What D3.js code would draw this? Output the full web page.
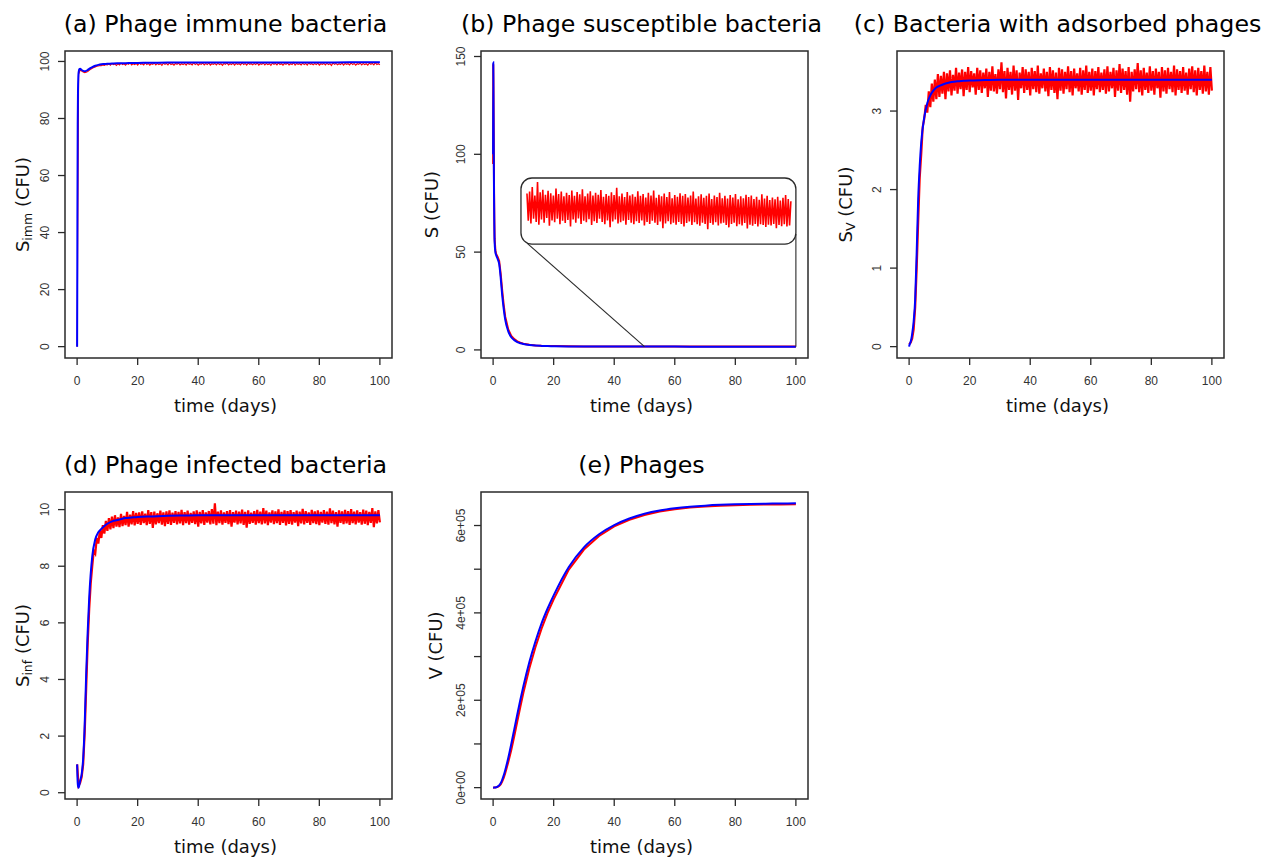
<!DOCTYPE html>
<html>
<head>
<meta charset="utf-8">
<script src="https://cdnjs.cloudflare.com/ajax/libs/d3/7.8.5/d3.min.js"></script>
<style>
body { margin: 0; background: #fff; }
.title { font-family: "DejaVu Sans"; font-size: 23.7px; fill: #000; }
.label { font-family: "DejaVu Sans"; font-size: 18px; fill: #111; }
.tick-label { font-family: "Liberation Sans"; font-size: 12px; fill: #333; }
</style>
</head>
<body>
<script>
// time grids (days)
const timeFine = [0, 0.05, 0.1, 0.2, 0.3, 0.4, 0.5, 0.75, 1, 1.5, 2, 2.5, 3, 3.5, 4, 5, 6, 7, 8, 9, 10,
    12, 14, 16, 18, 20, 25, 30, 35, 40, 45, 50, 55, 60, 65, 70, 75, 80, 85, 90, 95, 100]
const timeHalf = d3.range(0, 100.5, 0.5)
const timeInset = d3.range(50, 100.125, 0.25)

// deterministic solutions (blue), on timeFine
const detImm = [0, 20, 45, 78, 90, 94.5, 96.2, 97.3, 97.4, 97.0, 96.7, 96.6, 96.7, 97.0, 97.4, 98.0, 98.5, 98.8, 99.0, 99.1, 99.2,
    99.3, 99.35, 99.4, 99.45, 99.5, 99.55, 99.6, 99.6, 99.62, 99.63, 99.64, 99.65, 99.65, 99.66, 99.66, 99.67, 99.67, 99.67, 99.68, 99.68, 99.68]
const detSus = [100, 147, 135, 105, 80, 64, 55, 50, 48.5, 46.5, 44, 37, 28, 21, 15.5, 9.5, 6.5, 5, 4, 3.4, 3,
    2.5, 2.2, 2.05, 1.95, 1.9, 1.8, 1.75, 1.72, 1.7, 1.7, 1.69, 1.69, 1.69, 1.68, 1.68, 1.68, 1.68, 1.68, 1.68, 1.68, 1.68]
const detAds = [0, 0.01, 0.02, 0.03, 0.04, 0.05, 0.06, 0.1, 0.16, 0.32, 0.6, 1.2, 1.88, 2.3, 2.6, 2.92, 3.1, 3.2, 3.26, 3.3, 3.32,
    3.35, 3.37, 3.38, 3.385, 3.39, 3.395, 3.4, 3.4, 3.4, 3.4, 3.4, 3.4, 3.4, 3.4, 3.4, 3.4, 3.4, 3.4, 3.4, 3.4, 3.4]
const detInf = [1.0, 0.85, 0.6, 0.35, 0.24, 0.2, 0.18, 0.28, 0.42, 0.65, 1.2, 2.4, 4.2, 5.7, 6.9, 8.35, 8.95, 9.2, 9.32, 9.42, 9.5,
    9.6, 9.65, 9.7, 9.72, 9.74, 9.76, 9.78, 9.79, 9.8, 9.8, 9.8, 9.8, 9.8, 9.8, 9.8, 9.8, 9.8, 9.8, 9.8, 9.8, 9.8]
const detPhage = [0, 0, 0, 50, 100, 150, 250, 500, 900, 2500, 5000, 10000, 18000, 28000, 40000, 68000, 100000, 134000, 168000, 201000, 232000,
    288000, 335000, 376000, 410000, 440000, 505000, 550000, 580000, 601000, 616000, 627000, 634500, 639500, 643000, 645500, 647300, 648500, 649400, 650000, 650400, 650700]

// stochastic simulations (red)
const stochSus = [95, 146, 138, 112, 84, 67, 57, 51, 49, 47.5, 45.5, 39, 30.5, 23, 17, 10.5, 7.2, 5.5, 4.4, 3.7, 3.2,
    2.6, 2.3, 2.1, 2.0, 1.95, 1.85, 1.8, 1.78, 1.76, 1.75, 1.74, 1.73, 1.73, 1.72, 1.72, 1.72, 1.71, 1.71, 1.71, 1.71, 1.71]
const stochPhage = [0, 0, 0, 40, 80, 120, 200, 400, 700, 1800, 3800, 7500, 14000, 22000, 33000, 58000, 86000, 118000, 152000, 185000, 217000,
    274000, 322000, 364000, 400000, 431000, 499000, 545000, 576000, 598000, 613000, 624000, 632000, 637000, 641000, 643500, 645300, 646500, 647400, 648000, 648300, 648500]

// on timeHalf
const stochImm = [
    0.0, 95.5, 97.0, 96.6, 96.3, 96.1, 96.2, 96.5, 96.9, 97.3,
    97.6, 97.9, 98.1, 98.3, 98.4, 98.6, 98.5, 98.8, 98.6, 98.9,
    98.8, 99.2, 98.7, 99.3, 98.9, 99.1, 98.6, 99.2, 98.8, 99.4,
    98.9, 99.2, 98.7, 99.3, 99.0, 99.5, 98.8, 99.2, 98.9, 99.3,
    98.7, 99.4, 99.0, 99.2, 98.8, 99.6, 98.9, 99.3, 98.7, 99.2,
    99.0, 99.4, 98.8, 99.3, 98.9, 99.2, 98.6, 99.4, 99.0, 99.3,
    98.8, 99.5, 98.9, 99.2, 98.7, 99.3, 99.0, 99.4, 98.8, 99.2,
    98.9, 99.3, 98.7, 99.4, 99.0, 99.2, 98.8, 99.6, 98.9, 99.3,
    98.7, 99.2, 99.0, 99.4, 98.8, 99.3, 98.9, 99.5, 98.7, 99.2,
    99.0, 99.3, 98.8, 99.4, 98.9, 99.2, 98.6, 99.3, 99.0, 99.5,
    98.8, 99.2, 98.9, 99.4, 98.7, 99.3, 99.0, 99.2, 98.8, 99.6,
    98.9, 99.3, 98.7, 99.4, 99.0, 99.2, 98.8, 99.3, 98.9, 99.5,
    98.7, 99.2, 99.0, 99.4, 98.8, 99.3, 98.9, 99.2, 98.6, 99.4,
    99.0, 99.3, 98.8, 99.5, 98.9, 99.2, 98.7, 99.3, 99.0, 99.4,
    98.8, 99.2, 98.9, 99.6, 98.7, 99.3, 99.0, 99.2, 98.8, 99.4,
    98.9, 99.3, 98.7, 99.5, 99.0, 99.2, 98.8, 99.3, 98.9, 99.4,
    98.7, 99.2, 99.0, 99.3, 98.8, 99.4, 98.9, 99.2, 98.6, 99.5,
    99.0, 99.3, 98.8, 99.2, 98.9, 99.4, 98.7, 99.3, 99.0, 99.2,
    98.8, 99.5, 98.9, 99.3, 98.7, 99.2, 99.0, 99.4, 98.8, 99.3,
    98.9, 99.2, 98.7, 99.4, 99.0, 99.3, 98.8, 99.6, 98.9, 99.2,
    98.8]
const stochAds = [
    0.03, 0.05, 0.10, 0.22, 0.50, 1.00, 1.60, 2.15, 2.45, 2.80,
    2.90, 3.08, 2.98, 3.25, 3.05, 3.35, 3.12, 3.40, 3.15, 3.47,
    3.18, 3.45, 3.22, 3.50, 3.15, 3.48, 3.25, 3.52, 3.20, 3.46,
    3.26, 3.55, 3.22, 3.49, 3.28, 3.53, 3.19, 3.50, 3.27, 3.56,
    3.24, 3.51, 3.30, 3.48, 3.21, 3.55, 3.27, 3.52, 3.23, 3.49,
    3.29, 3.54, 3.18, 3.50, 3.26, 3.57, 3.25, 3.47, 3.22, 3.53,
    3.28, 3.62, 3.24, 3.51, 3.16, 3.55, 3.27, 3.50, 3.21, 3.58,
    3.26, 3.52, 3.14, 3.49, 3.29, 3.56, 3.23, 3.53, 3.27, 3.50,
    3.20, 3.55, 3.28, 3.51, 3.24, 3.58, 3.22, 3.48, 3.29, 3.54,
    3.25, 3.50, 3.19, 3.56, 3.27, 3.52, 3.23, 3.49, 3.15, 3.55,
    3.26, 3.53, 3.22, 3.50, 3.28, 3.57, 3.24, 3.51, 3.20, 3.54,
    3.29, 3.48, 3.25, 3.55, 3.21, 3.52, 3.27, 3.58, 3.23, 3.50,
    3.26, 3.54, 3.20, 3.51, 3.28, 3.56, 3.24, 3.49, 3.27, 3.53,
    3.22, 3.57, 3.25, 3.50, 3.29, 3.55, 3.18, 3.52, 3.26, 3.60,
    3.23, 3.54, 3.27, 3.51, 3.21, 3.56, 3.12, 3.50, 3.25, 3.53,
    3.28, 3.61, 3.24, 3.52, 3.20, 3.55, 3.27, 3.49, 3.23, 3.57,
    3.26, 3.51, 3.21, 3.54, 3.29, 3.50, 3.17, 3.56, 3.25, 3.52,
    3.22, 3.55, 3.28, 3.50, 3.24, 3.58, 3.20, 3.53, 3.27, 3.51,
    3.23, 3.56, 3.26, 3.49, 3.21, 3.54, 3.28, 3.57, 3.24, 3.52,
    3.20, 3.55, 3.27, 3.51, 3.22, 3.58, 3.25, 3.50, 3.21, 3.56,
    3.26]
const stochInf = [
    1.00, 0.25, 0.35, 0.55, 1.00, 2.10, 3.70, 5.30, 6.50, 7.40,
    8.00, 8.55, 8.45, 9.00, 8.80, 9.25, 9.00, 9.45, 9.15, 9.60,
    9.25, 9.70, 9.30, 9.75, 9.35, 9.80, 9.40, 9.72, 9.38, 9.85,
    9.42, 9.78, 9.45, 9.92, 9.40, 9.82, 9.48, 9.95, 9.44, 9.88,
    9.50, 9.90, 9.46, 9.94, 9.52, 9.86, 9.45, 9.98, 9.50, 9.91,
    9.35, 9.93, 9.48, 9.87, 9.52, 9.96, 9.47, 9.90, 9.42, 9.94,
    9.50, 9.97, 9.46, 9.89, 9.53, 9.95, 9.48, 9.92, 9.51, 9.99,
    9.45, 9.91, 9.52, 9.96, 9.47, 9.88, 9.53, 9.94, 9.49, 9.97,
    9.40, 9.92, 9.51, 9.98, 9.46, 9.90, 9.54, 9.95, 9.48, 10.02,
    9.50, 10.22, 9.45, 9.93, 9.52, 9.97, 9.47, 9.90, 9.53, 9.95,
    9.49, 9.98, 9.40, 9.91, 9.54, 9.96, 9.48, 9.93, 9.51, 10.00,
    9.46, 9.92, 9.36, 9.97, 9.50, 9.89, 9.53, 9.95, 9.47, 9.99,
    9.52, 9.93, 9.48, 10.05, 9.51, 9.96, 9.45, 9.90, 9.54, 9.97,
    9.49, 9.94, 9.52, 10.01, 9.46, 9.92, 9.53, 9.97, 9.44, 9.95,
    9.50, 9.98, 9.47, 9.91, 9.54, 9.96, 9.42, 9.93, 9.51, 10.03,
    9.48, 9.95, 9.53, 9.90, 9.46, 9.99, 9.52, 9.94, 9.49, 9.97,
    9.45, 9.92, 9.54, 9.98, 9.50, 9.93, 9.47, 10.04, 9.52, 9.96,
    9.48, 9.91, 9.40, 9.97, 9.53, 9.94, 9.49, 9.99, 9.51, 9.95,
    9.46, 10.02, 9.52, 9.93, 9.48, 9.97, 9.54, 9.91, 9.47, 10.00,
    9.50, 9.96, 9.45, 9.92, 9.53, 10.05, 9.38, 9.94, 9.51, 9.98,
    9.55]

// zoomed stochastic S for t = 50..100 (inset), on timeInset
const insetSus = [
    2.25, 1.55, 2.30, 1.48, 2.42, 1.60, 2.20, 1.52, 2.55, 1.45,
    2.28, 1.58, 2.35, 1.50, 2.22, 1.62, 2.32, 1.42, 2.26, 1.56,
    2.20, 1.51, 2.38, 1.60, 2.24, 1.46, 2.30, 1.55, 2.18, 1.49,
    2.27, 1.57, 2.21, 1.40, 2.33, 1.58, 2.19, 1.50, 2.29, 1.61,
    2.23, 1.47, 2.36, 1.55, 2.18, 1.51, 2.25, 1.59, 2.31, 1.44,
    2.20, 1.54, 2.27, 1.49, 2.22, 1.60, 2.34, 1.52, 2.17, 1.46,
    2.24, 1.56, 2.19, 1.38, 2.28, 1.53, 2.21, 1.58, 2.40, 1.48,
    2.18, 1.51, 2.25, 1.55, 2.16, 1.45, 2.29, 1.57, 2.20, 1.50,
    2.23, 1.46, 2.17, 1.54, 2.31, 1.49, 2.19, 1.56, 2.24, 1.43,
    2.15, 1.52, 2.27, 1.47, 2.20, 1.55, 2.33, 1.50, 2.14, 1.44,
    2.22, 1.53, 2.18, 1.36, 2.25, 1.48, 2.16, 1.54, 2.29, 1.46,
    2.13, 1.50, 2.21, 1.45, 2.17, 1.52, 2.26, 1.47, 2.19, 1.40,
    2.24, 1.49, 2.15, 1.53, 2.20, 1.44, 2.30, 1.51, 2.12, 1.46,
    2.18, 1.42, 2.23, 1.50, 2.14, 1.47, 2.19, 1.33, 2.25, 1.49,
    2.11, 1.45, 2.20, 1.51, 2.16, 1.43, 2.27, 1.48, 2.13, 1.50,
    2.19, 1.44, 2.12, 1.38, 2.21, 1.47, 2.15, 1.50, 2.24, 1.41,
    2.10, 1.46, 2.18, 1.43, 2.13, 1.49, 2.22, 1.35, 2.16, 1.45,
    2.20, 1.42, 2.11, 1.47, 2.17, 1.40, 2.09, 1.46, 2.23, 1.44,
    2.12, 1.39, 2.19, 1.45, 2.08, 1.43, 2.15, 1.47, 2.10, 1.36,
    2.17, 1.44, 2.07, 1.41, 2.14, 1.46, 2.21, 1.40, 2.11, 1.43,
    2.05]
const insetDomain = [1.0, 2.6]

// ticks
const xTicks = [0, 20, 40, 60, 80, 100]
const ticksImm = [0, 20, 40, 60, 80, 100]
const ticksSus = [0, 50, 100, 150]
const ticksAds = [0, 1, 2, 3]
const ticksInf = [0, 2, 4, 6, 8, 10]
const ticksPhage = [0, 1e5, 2e5, 3e5, 4e5, 5e5, 6e5]
const tickLabelsPhage = ['0e+00', '', '2e+05', '', '4e+05', '', '6e+05']

const panels = [
    { title: '(a) Phage immune bacteria', ylab: ['S', 'imm'], box: [65, 51], labOff: 36,
      det: detImm, stochT: timeHalf, stoch: stochImm, yTicks: ticksImm, noise: 1.1 },
    { title: '(b) Phage susceptible bacteria', ylab: ['S', null], box: [481, 51], labOff: 43,
      det: detSus, stochT: timeFine, stoch: stochSus, yTicks: ticksSus, noise: 2, inset: true },
    { title: '(c) Bacteria with adsorbed phages', ylab: ['S', 'V'], box: [897, 51], labOff: 45,
      det: detAds, stochT: timeHalf, stoch: stochAds, yTicks: ticksAds, noise: 2.2 },
    { title: '(d) Phage infected bacteria', ylab: ['S', 'inf'], box: [65, 492], labOff: 36,
      det: detInf, stochT: timeHalf, stoch: stochInf, yTicks: ticksInf, noise: 2.2 },
    { title: '(e) Phages', ylab: ['V', null], box: [481, 492], labOff: 39,
      det: detPhage, stochT: timeFine, stoch: stochPhage, yTicks: ticksPhage, yLabels: tickLabelsPhage, noise: 2 },
]

const boxW = 327, boxH = 307
const ink = '#2a2a2a'

const svg = d3.select('body').append('svg')
    .attr('width', 1265)
    .attr('height', 863)

panels.forEach(p => {
    const [bx, by] = p.box
    const padX = boxW / 1.08 * 0.04,
        padY = boxH / 1.08 * 0.04
    const x = d3.scaleLinear().domain([0, 100]).range([bx + padX, bx + boxW - padX])
    const ext = d3.extent(p.det.concat(p.stoch))
    const y = d3.scaleLinear().domain(ext).range([by + boxH - padY, by + padY])

    const g = svg.append('g')
    const line = d3.line().x(d => x(d[0])).y(d => y(d[1]))

    // red: stochastic
    g.append('path')
        .datum(p.stochT.map((t, i) => [t, p.stoch[i]]))
        .attr('d', line)
        .attr('fill', 'none')
        .attr('stroke', '#ff0000')
        .attr('stroke-width', p.noise)
    // blue: deterministic
    g.append('path')
        .datum(timeFine.map((t, i) => [t, p.det[i]]))
        .attr('d', line.curve(d3.curveMonotoneX))
        .attr('fill', 'none')
        .attr('stroke', '#0000ff')
        .attr('stroke-width', 2)

    if (p.inset) {
        // inset box placed in data coords of the main plot
        const left = x(9.2), right = x(100), top = y(87.9), bottom = y(54.1)
        g.append('rect')
            .attr('x', left).attr('y', top)
            .attr('width', right - left).attr('height', bottom - top)
            .attr('rx', 11).attr('ry', 11)
            .attr('fill', '#fff')
            .attr('stroke', ink).attr('stroke-width', 1.3)
        const ix = d3.scaleLinear().domain([50, 100]).range([left + 6, right - 5])
        const iy = d3.scaleLinear().domain(insetDomain).range([bottom - 2, top + 2])
        g.append('path')
            .datum(timeInset.map((t, i) => [t, insetSus[i]]))
            .attr('d', d3.line().x(d => ix(d[0])).y(d => iy(d[1])))
            .attr('fill', 'none')
            .attr('stroke', '#ff0000')
            .attr('stroke-width', 1.6)
        const s50 = p.det[timeFine.indexOf(50)], s100 = p.det[timeFine.indexOf(100)]
        g.append('line')
            .attr('x1', left + 6).attr('y1', bottom - 1)
            .attr('x2', x(50)).attr('y2', y(s50))
            .attr('stroke', ink).attr('stroke-width', 1.1)
        g.append('line')
            .attr('x1', right).attr('y1', bottom - 10)
            .attr('x2', x(100)).attr('y2', y(s100))
            .attr('stroke', ink).attr('stroke-width', 1.1)
    }

    // frame
    g.append('rect')
        .attr('x', bx).attr('y', by)
        .attr('width', boxW).attr('height', boxH)
        .attr('fill', 'none')
        .attr('stroke', ink)
        .attr('stroke-width', 1.5)

    // x axis
    const xa = g.append('g')
    xa.selectAll('line').data(xTicks).enter().append('line')
        .attr('x1', d => x(d)).attr('x2', d => x(d))
        .attr('y1', by + boxH).attr('y2', by + boxH + 7)
        .attr('stroke', ink).attr('stroke-width', 1.3)
    xa.selectAll('text').data(xTicks).enter().append('text')
        .attr('class', 'tick-label')
        .attr('text-anchor', 'middle')
        .attr('x', d => x(d))
        .attr('y', by + boxH + 27)
        .text(d => d)

    // y axis
    const ya = g.append('g')
    ya.selectAll('line').data(p.yTicks).enter().append('line')
        .attr('x1', bx).attr('x2', bx - 7)
        .attr('y1', d => y(d)).attr('y2', d => y(d))
        .attr('stroke', ink).attr('stroke-width', 1.3)
    ya.selectAll('text').data(p.yTicks).enter().append('text')
        .attr('class', 'tick-label')
        .attr('text-anchor', 'middle')
        .attr('transform', d => `translate(${bx - 16.5}, ${y(d)}) rotate(-90)`)
        .text((d, i) => p.yLabels ? p.yLabels[i] : d)

    // titles and labels
    const cx = bx + boxW / 2 - 3
    g.append('text')
        .attr('class', 'title')
        .attr('text-anchor', 'middle')
        .attr('x', cx)
        .attr('y', by - 19)
        .text(p.title)
    g.append('text')
        .attr('class', 'label')
        .attr('text-anchor', 'middle')
        .attr('x', cx)
        .attr('y', by + boxH + 54)
        .text('time (days)')

    const yl = g.append('text')
        .attr('class', 'label')
        .attr('text-anchor', 'middle')
        .attr('transform', `translate(${bx - p.labOff}, ${by + boxH / 2}) rotate(-90)`)
    yl.append('tspan').text(p.ylab[0])
    if (p.ylab[1]) {
        yl.append('tspan').attr('font-size', '12.5px').attr('dy', 3).text(p.ylab[1])
        yl.append('tspan').attr('dy', -3).text(' (CFU)')
    } else {
        yl.append('tspan').text(' (CFU)')
    }
})
</script>
</body>
</html>
